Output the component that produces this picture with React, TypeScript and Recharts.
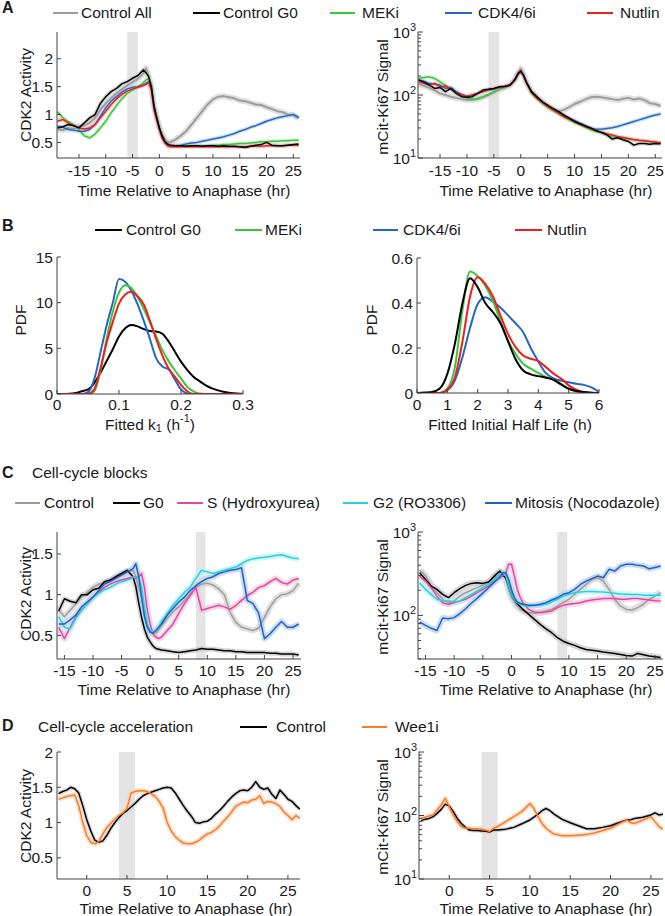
import React from "react";
import { LineChart, Line, XAxis, YAxis, ReferenceArea } from "recharts";

// ---------- time grids ----------
const A_TIME = [-19, -18, -17, -16, -15, -14, -13, -12, -11, -10, -9, -8, -7, -6, -5, -4, -3, -2.5, -2, -1.5, -1, -0.5, 0, 0.5, 1, 1.5, 2, 3, 4, 5, 6, 7, 8, 9, 10, 11, 12, 13, 14, 15, 16, 17, 18, 19, 20, 21, 22, 23, 24, 25, 26];
const C_TIME = [-16, -15, -14, -13, -12, -11, -10, -9, -8, -7, -6, -5, -4, -3, -2.5, -2, -1.5, -1, -0.5, 0, 0.5, 1, 1.5, 2, 3, 4, 5, 6, 7, 8, 9, 10, 11, 12, 13, 14, 15, 16, 17, 18, 19, 20, 21, 22, 23, 24, 25, 26];
const D_TIME = [-3.5, -3, -2.5, -2, -1.5, -1, -0.5, 0, 0.5, 1, 1.5, 2, 2.5, 3, 3.5, 4, 4.5, 5, 5.5, 6, 6.5, 7, 7.5, 8, 8.5, 9, 9.5, 10, 10.5, 11, 11.5, 12, 12.5, 13, 13.5, 14, 14.5, 15, 15.5, 16, 16.5, 17, 17.5, 18, 18.5, 19, 19.5, 20, 20.5, 21, 21.5, 22, 22.5, 23, 23.5, 24, 24.5, 25, 25.5, 26, 26.5];
const D_RIGHT_TIME = [-3.5, -3, -2.5, -2, -1.5, -1, -0.5, 0, 0.5, 1, 1.5, 2, 2.5, 3, 3.5, 4, 4.5, 5, 5.5, 6, 7, 8, 9, 10, 10.5, 11, 11.5, 12, 12.5, 13, 14, 15, 16, 17, 18, 19, 20, 21, 22, 22.5, 23, 24, 25, 25.5, 26, 26.5];
const K_GRID = [0, 0.01, 0.02, 0.03, 0.04, 0.05, 0.06, 0.07, 0.08, 0.09, 0.1, 0.11, 0.12, 0.13, 0.14, 0.15, 0.16, 0.17, 0.18, 0.19, 0.2, 0.21, 0.22, 0.23, 0.24, 0.25, 0.26, 0.27, 0.28, 0.29, 0.3];
const H_GRID = [0, 0.25, 0.5, 0.75, 1, 1.25, 1.5, 1.75, 2, 2.25, 2.5, 2.75, 3, 3.25, 3.5, 3.75, 4, 4.25, 4.5, 4.75, 5, 5.25, 5.5, 5.75, 6];

// ---------- A: CDK2 activity ----------
const CDK2_CONTROL_ALL = [0.73, 0.72, 0.76, 0.74, 0.79, 0.8, 0.85, 0.94, 1.09, 1.2, 1.29, 1.38, 1.45, 1.52, 1.58, 1.64, 1.74, 1.83, 1.7, 1.5, 1.15, 0.95, 0.78, 0.65, 0.56, 0.51, 0.5, 0.55, 0.62, 0.7, 0.82, 0.94, 1.06, 1.18, 1.27, 1.32, 1.33, 1.31, 1.29, 1.25, 1.24, 1.21, 1.18, 1.17, 1.13, 1.1, 1.06, 1.04, 1.0, 0.99, 0.93];
const CDK2_G0 = [0.76, 0.78, 0.82, 0.8, 0.76, 0.85, 0.94, 1.0, 1.2, 1.32, 1.41, 1.47, 1.55, 1.59, 1.65, 1.7, 1.8, 1.75, 1.68, 1.5, 1.15, 0.95, 0.76, 0.62, 0.52, 0.47, 0.45, 0.44, 0.44, 0.43, 0.44, 0.44, 0.43, 0.44, 0.44, 0.43, 0.44, 0.43, 0.43, 0.42, 0.41, 0.43, 0.45, 0.46, 0.5, 0.45, 0.44, 0.44, 0.45, 0.46, 0.47];
const CDK2_MEKI = [1.05, 0.94, 0.87, 0.82, 0.72, 0.62, 0.58, 0.65, 0.76, 0.88, 1.03, 1.16, 1.28, 1.38, 1.44, 1.49, 1.57, 1.62, 1.64, 1.55, 1.15, 0.95, 0.76, 0.62, 0.52, 0.47, 0.45, 0.44, 0.43, 0.44, 0.44, 0.44, 0.44, 0.44, 0.45, 0.45, 0.46, 0.46, 0.47, 0.48, 0.48, 0.49, 0.5, 0.51, 0.51, 0.52, 0.52, 0.53, 0.53, 0.54, 0.54];
const CDK2_CDK46 = [0.79, 0.77, 0.73, 0.72, 0.7, 0.7, 0.73, 0.82, 0.97, 1.12, 1.24, 1.32, 1.4, 1.46, 1.49, 1.5, 1.53, 1.56, 1.59, 1.5, 1.15, 0.95, 0.76, 0.62, 0.52, 0.47, 0.45, 0.44, 0.45, 0.47, 0.49, 0.5, 0.52, 0.54, 0.56, 0.58, 0.6, 0.63, 0.66, 0.7, 0.73, 0.77, 0.8, 0.84, 0.88, 0.91, 0.94, 0.96, 0.98, 1.0, 0.95];
const CDK2_NUTLIN = [0.88, 0.91, 0.85, 0.8, 0.76, 0.74, 0.76, 0.82, 0.94, 1.06, 1.18, 1.28, 1.36, 1.42, 1.46, 1.49, 1.52, 1.54, 1.57, 1.44, 1.09, 0.9, 0.73, 0.58, 0.49, 0.44, 0.42, 0.42, 0.42, 0.42, 0.42, 0.42, 0.42, 0.42, 0.42, 0.42, 0.42, 0.42, 0.42, 0.42, 0.42, 0.43, 0.43, 0.43, 0.44, 0.44, 0.44, 0.44, 0.45, 0.45, 0.45];

// ---------- A: mCit-Ki67 signal ----------
const KI67_CONTROL_ALL = [150, 140, 130, 118, 106, 100, 94, 90, 86, 83, 83, 86, 92, 100, 110, 122, 130, 136, 142, 160, 180, 225, 263, 215, 165, 135, 113, 94, 78, 67, 58, 55, 58, 64, 72, 78, 85, 92, 94, 92, 89, 86, 83, 87, 90, 85, 88, 83, 74, 72, 67];
const KI67_G0 = [174, 160, 144, 127, 132, 113, 127, 106, 94, 92, 94, 106, 120, 123, 127, 135, 138, 140, 144, 160, 183, 220, 242, 207, 162, 135, 113, 94, 78, 69, 61, 55, 48, 43, 38, 35, 32, 30, 27, 25.5, 23.3, 20, 21, 19.5, 18.3, 16, 17, 17, 16.5, 17, 16.8];
const KI67_MEKI = [183, 190, 194, 183, 162, 144, 127, 106, 98, 89, 86, 89, 94, 102, 113, 123, 132, 138, 144, 155, 175, 215, 226, 200, 160, 130, 106, 86.5, 73.9, 63.9, 56.6, 50, 44.4, 40.3, 36.6, 33.6, 30.8, 28, 26.4, 24.8, 23.4, 22, 21.2, 20.4, 20, 19.5, 19, 18.8, 18.3, 17.7, 17.7];
const KI67_CDK46 = [174, 165, 153, 148, 144, 127, 132, 113, 102, 96, 100, 106, 113, 120, 123, 132, 135, 138, 144, 160, 177, 215, 233, 205, 162, 135, 113, 92, 78.5, 67.9, 60.1, 53.2, 48.3, 42.8, 39.4, 35.7, 32.8, 29.8, 28.7, 28.7, 29.4, 30.1, 31.6, 33.6, 35.7, 37.9, 40.3, 42.8, 45.5, 48.3, 50.1];
const KI67_NUTLIN = [162, 153, 144, 153, 135, 139, 123, 109, 100, 94, 100, 106, 113, 123, 127, 132, 135, 140, 144, 160, 177, 215, 233, 205, 162, 133, 109, 89, 75.7, 65.4, 58, 51.4, 45.5, 41.3, 37.5, 34.4, 31.6, 29.4, 27.3, 25.7, 24.2, 23.1, 22, 21.2, 20.4, 19.7, 19.2, 18.8, 18.3, 17.9, 17.3];

// ---------- B: fitted k1 and initial half life PDFs ----------
const PDF_K_G0 = [0, 0, 0.02, 0.1, 0.3, 0.5, 1.2, 2.3, 3.6, 4.9, 6.3, 7.2, 7.55, 7.4, 7.1, 6.9, 6.85, 6.6, 5.75, 4.65, 3.55, 2.65, 1.9, 1.4, 0.95, 0.62, 0.4, 0.22, 0.11, 0.05, 0.02];
const PDF_K_MEKI = [0, 0, 0, 0, 0, 0, 0.3, 2.5, 6, 9, 11.1, 11.9, 11.6, 10.6, 9.3, 7.8, 6.3, 4.8, 3.6, 2.6, 1.7, 0.8, 0.3, 0.05, 0, 0, 0, 0, 0, 0, 0];
const PDF_K_CDK46 = [0, 0, 0, 0, 0, 0.2, 1.6, 4.5, 7.5, 10.0, 12.6, 12.3, 11.3, 9.8, 8.0, 6.0, 3.9, 3.0, 2.7, 1.6, 0.5, 0.05, 0, 0, 0, 0, 0, 0, 0, 0, 0];
const PDF_K_NUTLIN = [0, 0, 0, 0, 0, 0, 0.5, 2.8, 5.6, 7.9, 9.9, 10.9, 11.2, 10.7, 9.8, 8.0, 6.0, 4.2, 2.8, 1.9, 1.0, 0.3, 0, 0, 0, 0, 0, 0, 0, 0, 0];
const PDF_H_G0 = [0, 0.002, 0.005, 0.02, 0.085, 0.22, 0.4, 0.51, 0.47, 0.4, 0.36, 0.31, 0.23, 0.15, 0.1, 0.083, 0.075, 0.068, 0.059, 0.038, 0.019, 0.009, 0.004, 0.001, 0];
const PDF_H_MEKI = [0, 0, 0, 0, 0.02, 0.115, 0.37, 0.54, 0.52, 0.477, 0.41, 0.32, 0.233, 0.174, 0.13, 0.108, 0.089, 0.071, 0.059, 0.041, 0.02, 0.008, 0.002, 0, 0];
const PDF_H_CDK46 = [0, 0, 0, 0, 0.012, 0.056, 0.16, 0.29, 0.396, 0.426, 0.405, 0.38, 0.345, 0.31, 0.27, 0.2, 0.14, 0.088, 0.065, 0.055, 0.048, 0.041, 0.036, 0.025, 0.005];
const PDF_H_NUTLIN = [0, 0, 0, 0, 0.015, 0.07, 0.23, 0.43, 0.514, 0.485, 0.43, 0.345, 0.263, 0.204, 0.167, 0.152, 0.142, 0.115, 0.086, 0.064, 0.034, 0.015, 0.004, 0.001, 0];

// ---------- C: cell-cycle blocks ----------
const CDK2C_CONTROL = [0.81, 0.73, 0.81, 0.89, 0.97, 1.03, 1.09, 1.13, 1.14, 1.18, 1.22, 1.26, 1.28, 1.3, 1.22, 1.09, 0.97, 0.77, 0.62, 0.54, 0.52, 0.53, 0.57, 0.62, 0.71, 0.79, 0.85, 0.93, 1.01, 1.09, 1.13, 1.14, 1.12, 1.07, 1.0, 0.78, 0.66, 0.6, 0.58, 0.56, 0.59, 0.72, 0.85, 0.95, 1.0, 1.01, 1.05, 1.14];
const CDK2C_G0 = [0.8, 0.95, 0.92, 0.9, 1.0, 1.0, 1.06, 1.08, 1.16, 1.18, 1.22, 1.26, 1.3, 1.22, 1.1, 0.9, 0.72, 0.58, 0.48, 0.42, 0.37, 0.34, 0.33, 0.32, 0.31, 0.3, 0.29, 0.3, 0.31, 0.32, 0.34, 0.33, 0.33, 0.32, 0.31, 0.31, 0.3, 0.3, 0.29, 0.29, 0.29, 0.29, 0.28, 0.28, 0.27, 0.27, 0.27, 0.26];
const CDK2C_S = [0.6, 0.46, 0.6, 0.73, 0.81, 0.89, 0.97, 1.03, 1.09, 1.13, 1.16, 1.18, 1.2, 1.22, 1.2, 1.22, 1.26, 1.09, 0.81, 0.64, 0.52, 0.48, 0.46, 0.48, 0.56, 0.64, 0.77, 0.89, 0.99, 1.09, 0.81, 0.83, 0.85, 0.87, 0.85, 0.82, 0.87, 0.93, 0.99, 1.03, 1.09, 1.11, 1.16, 1.2, 1.15, 1.13, 1.18, 1.2];
const CDK2C_G2 = [0.73, 0.6, 0.58, 0.71, 0.81, 0.89, 0.97, 1.02, 1.06, 1.09, 1.13, 1.16, 1.18, 1.21, 1.22, 1.21, 1.09, 0.85, 0.64, 0.56, 0.54, 0.56, 0.6, 0.67, 0.77, 0.87, 0.95, 1.03, 1.09, 1.2, 1.3, 1.28, 1.26, 1.28, 1.3, 1.32, 1.34, 1.38, 1.42, 1.44, 1.45, 1.46, 1.47, 1.48, 1.49, 1.47, 1.45, 1.44];
const CDK2C_M = [0.64, 0.64, 0.69, 0.75, 0.85, 0.91, 0.97, 1.05, 1.13, 1.16, 1.2, 1.24, 1.28, 1.32, 1.38, 1.22, 0.97, 0.73, 0.6, 0.54, 0.53, 0.56, 0.6, 0.64, 0.75, 0.83, 0.91, 0.97, 1.05, 1.11, 1.16, 1.2, 1.22, 1.26, 1.28, 1.3, 1.31, 1.33, 0.93, 0.89, 0.77, 0.46, 0.52, 0.6, 0.67, 0.6, 0.6, 0.64];
const KI67C_CONTROL = [350, 300, 225, 187, 156, 142, 149, 170, 187, 201, 215, 229, 247, 283, 300, 325, 320, 270, 205, 163, 145, 129, 120, 113, 108, 106, 108, 113, 118, 129, 142, 156, 179, 205, 235, 270, 283, 258, 205, 156, 129, 118, 116, 124, 136, 156, 170, 187];
const KI67C_G0 = [325, 270, 225, 205, 179, 163, 187, 209, 229, 242, 247, 242, 251, 296, 320, 340, 300, 283, 225, 179, 156, 139, 128, 118, 103, 89.5, 78, 69, 62, 54, 49, 46, 43.7, 40.9, 39.1, 38.3, 37.3, 36.3, 35.6, 35, 34, 33.1, 32.5, 35, 33.7, 32.5, 31.9, 31.3];
const KI67C_S = [296, 258, 215, 170, 142, 136, 142, 149, 156, 170, 187, 205, 225, 258, 270, 283, 300, 325, 410, 410, 296, 205, 165, 142, 118, 110, 108, 110, 113, 124, 132, 136, 139, 142, 149, 153, 156, 159, 159, 159, 156, 156, 159, 159, 156, 153, 150, 149];
const KI67C_G2 = [247, 205, 179, 156, 149, 149, 145, 149, 163, 179, 196, 215, 235, 270, 290, 310, 330, 296, 225, 179, 156, 142, 136, 132, 129, 131, 132, 136, 145, 156, 170, 179, 187, 191, 194, 194, 192, 191, 187, 184, 180, 179, 178, 178, 175, 175, 174, 174];
const KI67C_M = [83, 76, 70, 66, 93, 91, 94, 105, 120, 140, 160, 185, 215, 250, 270, 290, 325, 325, 270, 205, 163, 145, 140, 136, 132, 132, 136, 142, 153, 163, 179, 187, 205, 235, 258, 276, 296, 283, 357, 340, 391, 410, 410, 398, 391, 362, 376, 391];

// ---------- D: cell-cycle acceleration ----------
const CDK2D_CONTROL = [1.41, 1.44, 1.46, 1.5, 1.48, 1.42, 1.24, 1.04, 0.88, 0.75, 0.72, 0.74, 0.82, 0.92, 1.0, 1.07, 1.13, 1.17, 1.22, 1.27, 1.33, 1.38, 1.41, 1.43, 1.45, 1.47, 1.49, 1.5, 1.49, 1.42, 1.33, 1.24, 1.16, 1.09, 1.0, 0.99, 1.01, 1.02, 1.06, 1.12, 1.17, 1.23, 1.3, 1.36, 1.41, 1.45, 1.46, 1.45, 1.5, 1.58, 1.5, 1.47, 1.49, 1.4, 1.34, 1.46, 1.4, 1.33, 1.3, 1.24, 1.19];
const CDK2D_WEE1 = [1.33, 1.35, 1.37, 1.38, 1.39, 1.24, 1.0, 0.82, 0.72, 0.7, 0.73, 0.84, 0.93, 0.99, 1.05, 1.1, 1.14, 1.2, 1.42, 1.44, 1.45, 1.45, 1.44, 1.41, 1.37, 1.3, 1.2, 1.0, 0.88, 0.8, 0.75, 0.71, 0.7, 0.7, 0.72, 0.75, 0.8, 0.84, 0.86, 0.9, 0.95, 1.02, 1.08, 1.15, 1.23, 1.26, 1.29, 1.28, 1.32, 1.33, 1.38, 1.27, 1.3, 1.29, 1.27, 1.23, 1.15, 1.1, 1.04, 1.1, 1.06];
const KI67D_CONTROL = [83, 87, 90, 96, 108, 125, 151, 141, 115, 90, 75, 65, 59, 58, 58, 57, 56.5, 55, 59, 59, 61, 65, 74, 85, 94, 105, 119, 129, 119, 105, 87, 77, 69, 62, 62, 65, 69, 77, 85, 86, 90, 94, 102, 110, 102, 105];
const KI67D_WEE1 = [90, 94, 98, 102, 122, 146, 186, 137, 102, 80, 67, 63, 63, 62, 62, 61, 59, 56, 63, 67, 80, 96, 115, 155, 129, 96, 75, 63, 56, 51, 48, 48, 49, 50, 53, 58, 63, 74, 85, 77, 75, 85, 96, 80, 67, 61];

// ---------- tick labels ----------
const TIME_TICKS = [-15, -10, -5, 0, 5, 10, 15, 20, 25];
const D_TIME_TICKS = [0, 5, 10, 15, 20, 25];
const CDK2_TICKS = [0.5, 1, 1.5, 2];
const CDK2C_TICKS = [0.5, 1, 1.5];
const LOG_TICKS = [10, 20, 30, 40, 50, 60, 70, 80, 90, 100, 200, 300, 400, 500, 600, 700, 800, 900, 1000];
const LOG_TICKS_C = [30, 40, 50, 60, 70, 80, 90, 100, 200, 300, 400, 500, 600, 700, 800, 900, 1000];
const K_TICKS = [0, 0.1, 0.2, 0.3];
const K_PDF_TICKS = [0, 5, 10, 15];
const H_TICKS = [0, 1, 2, 3, 4, 5, 6];
const H_PDF_TICKS = [0, 0.2, 0.4, 0.6];

// ---------- style ----------
const FONT = '"Liberation Sans", Arial, Helvetica, sans-serif';
const INK = "#1a1a1a";
const AXIS = "#404040";
const FS = 15.5;
const SHADE = "#e4e4e4";

const GRAY = "#9d9d9d";
const BLACK = "#000000";
const GREEN = "#3cc43c";
const BLUE = "#2368c2";
const RED = "#f21c1c";
const MAGENTA = "#dd4aa0";
const CYAN = "#26d1de";
const MITO = "#1d62c4";
const ORANGE = "#fb7a26";

const HALO: Record<string, string> = {
  [GRAY]: "#d3d3d3",
  [BLACK]: "#c4c4c4",
  [GREEN]: "#bdebbd",
  [BLUE]: "#b9d0f0",
  [RED]: "#f7bcbc",
  [MAGENTA]: "#f2c3df",
  [CYAN]: "#bdf1f5",
  [MITO]: "#b8cdee",
  [ORANGE]: "#fdd3b5",
};

type Series = { key: string; values: number[]; color: string; width?: number; halo?: number };

const YW = 60;
const TM = 12;
const RM = 20;
const XH = 60;

interface PlotProps {
  left: number;
  top: number;
  w: number;
  h: number;
  time: number[];
  series: Series[];
  xDomain: [number, number];
  xTicks: number[];
  yDomain: [number, number];
  yTicks: number[];
  log?: boolean;
  shade?: [number, number];
  curve?: "linear" | "monotone";
  tickDy: number; // baseline of x tick labels below the axis
  xTitle: React.ReactNode;
  xTitleAt: [number, number];
  yTitle: string;
  yTitleAt: [number, number];
}

function Plot(p: PlotProps) {
  const ox = p.left - YW;
  const oy = p.top - TM;
  const axisY = TM + p.h;
  const axisX = YW;

  const rows = p.time.map((t, i) => {
    const r: Record<string, number> = { t };
    p.series.forEach((s) => {
      r[s.key] = s.values[i];
    });
    return r;
  });

  const xTick = (tp: any) => (
    <g>
      <line x1={tp.x} x2={tp.x} y1={axisY} y2={axisY - 4} stroke={AXIS} />
      <text x={tp.x} y={axisY + p.tickDy} textAnchor="middle" fontSize={FS} fontFamily={FONT} fill={INK}>
        {String(tp.payload.value)}
      </text>
    </g>
  );

  const yTick = (tp: any) => {
    const v = tp.payload.value;
    if (!p.log) {
      return (
        <g>
          <line x1={axisX} x2={axisX + 4} y1={tp.y} y2={tp.y} stroke={AXIS} />
          <text x={axisX - 4} y={tp.y + 5.5} textAnchor="end" fontSize={FS} fontFamily={FONT} fill={INK}>
            {String(v)}
          </text>
        </g>
      );
    }
    const e = Math.round(Math.log10(v));
    const major = Math.abs(Math.log10(v) - e) < 1e-6;
    return (
      <g>
        <line x1={axisX} x2={axisX + (major ? 5 : 3)} y1={tp.y} y2={tp.y} stroke={AXIS} />
        {major && (
          <text x={axisX - 2} y={tp.y + 6} textAnchor="end" fontSize={FS} fontFamily={FONT} fill={INK}>
            <tspan>10</tspan>
            <tspan dy={-7} fontSize={11}>
              {e}
            </tspan>
          </text>
        )}
      </g>
    );
  };

  const xLabel = () => (
    <text
      x={p.xTitleAt[0] - ox}
      y={p.xTitleAt[1] - oy}
      textAnchor="middle"
      dominantBaseline="central"
      fontSize={FS}
      fontFamily={FONT}
      fill={INK}
    >
      {p.xTitle}
    </text>
  );

  const yLabel = () => {
    const cx = p.yTitleAt[0] - ox;
    const cy = p.yTitleAt[1] - oy;
    return (
      <text
        x={cx}
        y={cy}
        transform={`rotate(-90, ${cx}, ${cy})`}
        textAnchor="middle"
        dominantBaseline="central"
        fontSize={FS}
        fontFamily={FONT}
        fill={INK}
      >
        {p.yTitle}
      </text>
    );
  };

  const curve = p.curve ?? "linear";

  return (
    <div style={{ position: "absolute", left: ox, top: oy }}>
      <LineChart
        width={YW + p.w + RM}
        height={TM + p.h + XH}
        data={rows}
        margin={{ top: TM, right: RM, left: 0, bottom: 0 }}
      >
        {p.shade && (
          <ReferenceArea x1={p.shade[0]} x2={p.shade[1]} fill={SHADE} fillOpacity={1} stroke="none" />
        )}
        <XAxis
          type="number"
          dataKey="t"
          domain={p.xDomain}
          ticks={p.xTicks}
          interval={0}
          allowDataOverflow
          height={XH}
          tickLine={false}
          tickSize={0}
          tickMargin={0}
          axisLine={{ stroke: AXIS }}
          tick={xTick}
          label={xLabel}
        />
        <YAxis
          type="number"
          scale={p.log ? "log" : "linear"}
          domain={p.yDomain}
          ticks={p.yTicks}
          interval={0}
          allowDataOverflow
          width={YW}
          tickLine={false}
          tickSize={0}
          tickMargin={0}
          axisLine={{ stroke: AXIS }}
          tick={yTick}
          label={yLabel}
        />
        {p.series.map((s) => (
          <Line
            key={s.key + "-halo"}
            type={curve}
            dataKey={s.key}
            stroke={HALO[s.color]}
            strokeWidth={s.halo ?? 4}
            strokeOpacity={0.7}
            strokeLinejoin="round"
            dot={false}
            activeDot={false}
            isAnimationActive={false}
          />
        ))}
        {p.series.map((s) => (
          <Line
            key={s.key}
            type={curve}
            dataKey={s.key}
            stroke={s.color}
            strokeWidth={s.width ?? 1.5}
            strokeLinejoin="round"
            dot={false}
            activeDot={false}
            isAnimationActive={false}
          />
        ))}
      </LineChart>
    </div>
  );
}

// ---------- legends ----------
const A_NAMES = ["Control All", "Control G0", "MEKi", "CDK4/6i", "Nutlin"];
const A_COLORS = [GRAY, BLACK, GREEN, BLUE, RED];
const A_LEG_POS = [[53, 78, 81], [193, 220, 223], [330, 355, 362], [445, 472, 478], [587, 613, 620]];
const B_NAMES = ["Control G0", "MEKi", "CDK4/6i", "Nutlin"];
const B_COLORS = [BLACK, GREEN, BLUE, RED];
const B_LEG_POS = [[95, 122, 126], [235, 262, 265], [373, 398, 403], [515, 542, 547]];
const C_NAMES = ["Control", "G0", "S (Hydroxyurea)", "G2 (RO3306)", "Mitosis (Nocodazole)"];
const C_COLORS = [GRAY, BLACK, MAGENTA, CYAN, MITO];
const C_LEG_POS = [[15, 40, 44], [113, 140, 143], [177, 203, 207], [343, 368, 373], [485, 512, 515]];
const D_NAMES = ["Control", "Wee1i"];
const D_COLORS = [BLACK, ORANGE];
const D_LEG_POS = [[240, 267, 276], [362, 387, 395]];

const TEXT: React.CSSProperties = {
  position: "absolute",
  height: 20,
  lineHeight: "20px",
  fontSize: FS,
  fontFamily: FONT,
  color: INK,
  whiteSpace: "nowrap",
};

function Legend({ names, colors, pos, y }: { names: string[]; colors: string[]; pos: number[][]; y: number }) {
  return (
    <>
      {names.map((n, i) => (
        <React.Fragment key={n}>
          <div
            style={{
              position: "absolute",
              left: pos[i][0],
              top: y - 1,
              width: pos[i][1] - pos[i][0],
              height: 2,
              background: colors[i],
            }}
          />
          <div style={{ ...TEXT, left: pos[i][2], top: y - 10 }}>{n}</div>
        </React.Fragment>
      ))}
    </>
  );
}

function Letter({ x, y, ch }: { x: number; y: number; ch: string }) {
  return <div style={{ ...TEXT, left: x, top: y - 10, fontWeight: 700, fontSize: 16 }}>{ch}</div>;
}

const TIME_TITLE = "Time Relative to Anaphase (hr)";
const K_TITLE = (
  <>
    <tspan>Fitted k</tspan>
    <tspan dy={4} fontSize={11}>
      1
    </tspan>
    <tspan dy={-4}> (h</tspan>
    <tspan dy={-6} fontSize={11}>
      -1
    </tspan>
    <tspan dy={6}>)</tspan>
  </>
);

export default function App() {
  return (
    <div
      style={{
        position: "relative",
        width: 665,
        height: 916,
        background: "#fff",
        overflow: "hidden",
        fontFamily: FONT,
      }}
    >
      <style>{"body{margin:0}"}</style>

      {/* ---- A ---- */}
      <Letter x={2} y={8} ch="A" />
      <Legend names={A_NAMES} colors={A_COLORS} pos={A_LEG_POS} y={13} />
      <Plot
        left={57}
        top={32}
        w={243}
        h={126}
        time={A_TIME}
        series={[
          { key: "all", values: CDK2_CONTROL_ALL, color: GRAY, width: 2, halo: 6 },
          { key: "meki", values: CDK2_MEKI, color: GREEN },
          { key: "cdk46", values: CDK2_CDK46, color: BLUE },
          { key: "nutlin", values: CDK2_NUTLIN, color: RED },
          { key: "g0", values: CDK2_G0, color: BLACK },
        ]}
        xDomain={[-19.1, 26.25]}
        xTicks={TIME_TICKS}
        yDomain={[0.22, 2.48]}
        yTicks={CDK2_TICKS}
        shade={[-6, -4]}
        tickDy={18}
        xTitle={TIME_TITLE}
        xTitleAt={[184, 190]}
        yTitle="CDK2 Activity"
        yTitleAt={[25, 95]}
      />
      <Plot
        left={418}
        top={32}
        w={244}
        h={126}
        time={A_TIME}
        series={[
          { key: "all", values: KI67_CONTROL_ALL, color: GRAY, width: 2, halo: 6 },
          { key: "meki", values: KI67_MEKI, color: GREEN },
          { key: "cdk46", values: KI67_CDK46, color: BLUE },
          { key: "nutlin", values: KI67_NUTLIN, color: RED },
          { key: "g0", values: KI67_G0, color: BLACK },
        ]}
        xDomain={[-19.1, 26.25]}
        xTicks={TIME_TICKS}
        yDomain={[10, 1000]}
        yTicks={LOG_TICKS}
        log
        shade={[-6, -4]}
        tickDy={18}
        xTitle={TIME_TITLE}
        xTitleAt={[546, 190]}
        yTitle="mCit-Ki67 Signal"
        yTitleAt={[382, 97]}
      />

      {/* ---- B ---- */}
      <Letter x={2} y={226} ch="B" />
      <Legend names={B_NAMES} colors={B_COLORS} pos={B_LEG_POS} y={230} />
      <Plot
        left={57}
        top={257}
        w={186}
        h={137}
        time={K_GRID}
        series={[
          { key: "g0", values: PDF_K_G0, color: BLACK, width: 2, halo: 0 },
          { key: "cdk46", values: PDF_K_CDK46, color: BLUE, width: 2, halo: 0 },
          { key: "meki", values: PDF_K_MEKI, color: GREEN, width: 2, halo: 0 },
          { key: "nutlin", values: PDF_K_NUTLIN, color: RED, width: 2, halo: 0 },
        ]}
        curve="monotone"
        xDomain={[0, 0.3]}
        xTicks={K_TICKS}
        yDomain={[0, 15]}
        yTicks={K_PDF_TICKS}
        tickDy={15.5}
        xTitle={K_TITLE}
        xTitleAt={[150, 424]}
        yTitle="PDF"
        yTitleAt={[20.5, 320]}
      />
      <Plot
        left={417}
        top={258}
        w={182}
        h={135}
        time={H_GRID}
        series={[
          { key: "cdk46", values: PDF_H_CDK46, color: BLUE, width: 2, halo: 0 },
          { key: "meki", values: PDF_H_MEKI, color: GREEN, width: 2, halo: 0 },
          { key: "nutlin", values: PDF_H_NUTLIN, color: RED, width: 2, halo: 0 },
          { key: "g0", values: PDF_H_G0, color: BLACK, width: 2, halo: 0 },
        ]}
        curve="monotone"
        xDomain={[0, 6]}
        xTicks={H_TICKS}
        yDomain={[0, 0.6]}
        yTicks={H_PDF_TICKS}
        tickDy={16.5}
        xTitle="Fitted Initial Half Life (h)"
        xTitleAt={[510, 424]}
        yTitle="PDF"
        yTitleAt={[371.5, 320]}
      />

      {/* ---- C ---- */}
      <Letter x={2} y={473} ch="C" />
      <div style={{ ...TEXT, left: 32, top: 463 }}>Cell-cycle blocks</div>
      <Legend names={C_NAMES} colors={C_COLORS} pos={C_LEG_POS} y={503} />
      <Plot
        left={57}
        top={532}
        w={244}
        h={127}
        time={C_TIME}
        series={[
          { key: "ctrl", values: CDK2C_CONTROL, color: GRAY, width: 1.5, halo: 6 },
          { key: "g0", values: CDK2C_G0, color: BLACK, halo: 5 },
          { key: "s", values: CDK2C_S, color: MAGENTA, halo: 6 },
          { key: "g2", values: CDK2C_G2, color: CYAN, halo: 6 },
          { key: "m", values: CDK2C_M, color: MITO, halo: 6 },
        ]}
        xDomain={[-16.3, 26.4]}
        xTicks={TIME_TICKS}
        yDomain={[0.21, 1.77]}
        yTicks={CDK2C_TICKS}
        shade={[8, 9.7]}
        tickDy={16.5}
        xTitle={TIME_TITLE}
        xTitleAt={[184, 689]}
        yTitle="CDK2 Activity"
        yTitleAt={[25, 594]}
      />
      <Plot
        left={418}
        top={532}
        w={245}
        h={127}
        time={C_TIME}
        series={[
          { key: "ctrl", values: KI67C_CONTROL, color: GRAY, width: 1.5, halo: 7 },
          { key: "g0", values: KI67C_G0, color: BLACK, halo: 6 },
          { key: "s", values: KI67C_S, color: MAGENTA, halo: 6 },
          { key: "g2", values: KI67C_G2, color: CYAN, halo: 6 },
          { key: "m", values: KI67C_M, color: MITO, halo: 6 },
        ]}
        xDomain={[-16.3, 26.4]}
        xTicks={TIME_TICKS}
        yDomain={[30, 1000]}
        yTicks={LOG_TICKS_C}
        log
        shade={[8, 9.7]}
        tickDy={16.5}
        xTitle={TIME_TITLE}
        xTitleAt={[546, 689]}
        yTitle="mCit-Ki67 Signal"
        yTitleAt={[382, 597]}
      />

      {/* ---- D ---- */}
      <Letter x={2} y={726} ch="D" />
      <div style={{ ...TEXT, left: 38, top: 717 }}>Cell-cycle acceleration</div>
      <Legend names={D_NAMES} colors={D_COLORS} pos={D_LEG_POS} y={727} />
      <Plot
        left={57}
        top={752}
        w={243}
        h={127}
        time={D_TIME}
        series={[
          { key: "ctrl", values: CDK2D_CONTROL, color: BLACK, halo: 4 },
          { key: "wee1", values: CDK2D_WEE1, color: ORANGE, halo: 5 },
        ]}
        xDomain={[-3.7, 26.5]}
        xTicks={D_TIME_TICKS}
        yDomain={[0.2, 2]}
        yTicks={CDK2_TICKS}
        shade={[4, 6]}
        tickDy={16.5}
        xTitle={TIME_TITLE}
        xTitleAt={[186, 908]}
        yTitle="CDK2 Activity"
        yTitleAt={[25, 816]}
      />
      <Plot
        left={419}
        top={752}
        w={244}
        h={127}
        time={D_RIGHT_TIME}
        series={[
          { key: "ctrl", values: KI67D_CONTROL, color: BLACK, halo: 4 },
          { key: "wee1", values: KI67D_WEE1, color: ORANGE, halo: 5 },
        ]}
        xDomain={[-3.75, 26.5]}
        xTicks={D_TIME_TICKS}
        yDomain={[10, 1000]}
        yTicks={LOG_TICKS}
        log
        shade={[4, 6]}
        tickDy={16.5}
        xTitle={TIME_TITLE}
        xTitleAt={[546, 908]}
        yTitle="mCit-Ki67 Signal"
        yTitleAt={[382, 817]}
      />
    </div>
  );
}
